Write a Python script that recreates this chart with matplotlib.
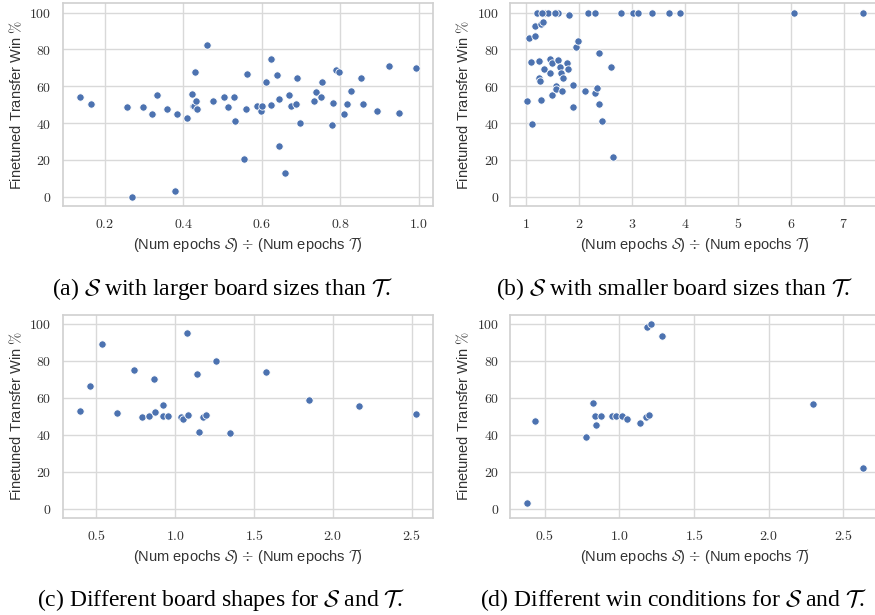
import matplotlib
matplotlib.use("Agg")
import matplotlib.pyplot as plt
from matplotlib.ticker import FuncFormatter
import seaborn as sns

# (a) S with larger board sizes than T
a_ratio = [0.136, 0.165, 0.256, 0.270, 0.297, 0.321, 0.332, 0.359, 0.380, 0.383,
           0.410, 0.422, 0.430, 0.424, 0.427, 0.433, 0.436, 0.460, 0.475, 0.503,
           0.515, 0.530, 0.532, 0.554, 0.559, 0.563, 0.588, 0.597, 0.601, 0.611,
           0.624, 0.624, 0.638, 0.643, 0.644, 0.658, 0.669, 0.674, 0.688, 0.690,
           0.697, 0.732, 0.737, 0.750, 0.754, 0.779, 0.782, 0.788, 0.796, 0.808,
           0.816, 0.826, 0.853, 0.857, 0.892, 0.923, 0.949, 0.992]
a_win = [54.2, 50.1, 48.6, 0.0, 48.5, 44.7, 55.1, 47.7, 3.4, 45.0,
         42.5, 55.9, 67.7, 49.4, 49.2, 52.1, 47.7, 82.5, 52.1, 53.9,
         48.5, 54.4, 41.3, 20.7, 47.7, 66.8, 49.4, 46.3, 49.2, 62.3,
         74.8, 49.7, 66.1, 53.2, 27.7, 12.8, 55.0, 49.5, 50.1, 64.5,
         40.0, 52.1, 56.6, 54.4, 62.2, 39.1, 51.0, 69.0, 67.7, 44.7,
         50.5, 57.5, 64.5, 50.3, 46.5, 71.2, 45.6, 69.9]

# (b) S with smaller board sizes than T
b_ratio = [1.013, 1.057, 1.088, 1.119, 1.170, 1.170, 1.214, 1.239, 1.252, 1.270,
           1.283, 1.289, 1.327, 1.340, 1.365, 1.421, 1.453, 1.459, 1.484, 1.497,
           1.560, 1.566, 1.560, 1.604, 1.610, 1.635, 1.667, 1.673, 1.704, 1.774,
           1.792, 1.805, 1.881, 1.887, 1.943, 1.987, 2.107, 2.170, 2.308, 2.302,
           2.333, 2.371, 2.371, 2.440, 2.610, 2.635, 2.786, 3.013, 3.119, 3.384,
           3.704, 3.906, 6.050, 7.365, 1.30, 1.55]
b_win = [52.0, 86.0, 73.0, 39.4, 87.4, 92.6, 100.0, 73.9, 64.7, 63.0,
         52.3, 93.9, 94.6, 69.4, 100.0, 100.0, 67.3, 74.8, 72.8, 55.0,
         60.3, 58.3, 100.0, 74.3, 100.0, 70.3, 67.1, 57.2, 64.7, 72.7,
         69.2, 98.4, 60.6, 48.9, 81.3, 84.5, 57.6, 100.0, 100.0, 56.5,
         58.8, 78.1, 50.4, 41.0, 70.7, 21.8, 100.0, 100.0, 100.0, 100.0,
         100.0, 100.0, 100.0, 100.0, 100.0, 100.0]

# (c) Different board shapes for S and T
c_ratio = [0.394, 0.460, 0.538, 0.633, 0.739, 0.792, 0.834, 0.866, 0.874, 0.921,
           0.925, 0.952, 1.035, 1.048, 1.075, 1.083, 1.141, 1.153, 1.179, 1.194,
           1.259, 1.350, 1.576, 1.847, 2.166, 2.525]
c_win = [52.8, 66.4, 89.0, 51.7, 75.0, 49.9, 50.1, 70.4, 52.1, 56.2,
         50.1, 50.1, 49.7, 48.8, 95.3, 50.8, 72.7, 41.8, 49.9, 51.0,
         80.1, 41.1, 74.1, 58.7, 55.5, 51.3]

# (d) Different win conditions for S and T
d_ratio = [0.379, 0.435, 0.777, 0.824, 0.836, 0.845, 0.876, 0.950, 0.980, 1.015,
           1.048, 1.140, 1.176, 1.182, 1.196, 1.209, 1.283, 2.299, 2.634]
d_win = [3.2, 47.7, 39.0, 57.4, 50.0, 45.3, 50.0, 50.0, 50.0, 50.0,
         48.6, 46.6, 49.5, 98.4, 50.9, 100.0, 93.7, 56.7, 21.8]

captions = [r"(a) $\mathcal{S}$ with larger board sizes than $\mathcal{T}$.",
            r"(b) $\mathcal{S}$ with smaller board sizes than $\mathcal{T}$.",
            r"(c) Different board shapes for $\mathcal{S}$ and $\mathcal{T}$.",
            r"(d) Different win conditions for $\mathcal{S}$ and $\mathcal{T}$."]
xticks = [[0.2, 0.4, 0.6, 0.8, 1.0], [1, 2, 3, 4, 5, 6, 7],
          [0.5, 1.0, 1.5, 2.0, 2.5], [0.5, 1.0, 1.5, 2.0, 2.5]]
xfmts = ["%.1f", "%d", "%.1f", "%.1f"]
yticks = [0, 20, 40, 60, 80, 100]

sns.set_theme(style="whitegrid")
plt.rcParams["font.family"] = ["Liberation Sans", "DejaVu Sans"]
plt.rcParams["mathtext.fontset"] = "cm"

W, H = 875, 615
fig = plt.figure(figsize=(W / 100, H / 100), dpi=100)

# axes boxes in pixels: left, top, right, bottom
boxes = [(62.7, 3.3, 432.7, 206), (510, 3.3, 880, 206),
         (62.7, 314.7, 432.7, 518), (510, 314.7, 880, 518)]
data = [(a_ratio, a_win), (b_ratio, b_win), (c_ratio, c_win), (d_ratio, d_win)]
cap_pos = [(222, 289), (674, 289), (221, 600), (673, 600)]


def make_fmt(f):
    return FuncFormatter(lambda v, p: "$" + (f % v) + "$")


for i, (l, t, r, b) in enumerate(boxes):
    ax = fig.add_axes([l / W, 1 - b / H, (r - l) / W, (b - t) / H])
    xs, ys = data[i]
    sns.scatterplot(x=xs, y=ys, ax=ax, s=28, color="#4c72b0",
                    edgecolor="white", linewidth=0.6)
    ax.set_xticks(xticks[i])
    ax.set_yticks(yticks)
    ax.set_ylim(-5, 105)
    ax.xaxis.set_major_formatter(make_fmt(xfmts[i]))
    ax.yaxis.set_major_formatter(make_fmt("%d"))
    ax.tick_params(labelsize=10, pad=2, colors="#333333")
    ax.grid(color="#d9d9d9", linewidth=1.0)
    for sp in ax.spines.values():
        sp.set_color("#d0d0d0")
        sp.set_linewidth(1.2)
    ax.set_xlabel(r"(Num epochs $\mathcal{S}$) $\div$ (Num epochs $\mathcal{T}$)",
                  fontsize=10.5, color="#333333", labelpad=3)
    ax.set_ylabel(r"Finetuned Transfer Win $\%$", fontsize=10.5, color="#333333",
                  labelpad=4)
    cx, cy = cap_pos[i]
    fig.text(cx / W, 1 - cy / H, captions[i], ha="center", va="center",
             fontsize=17, family=["Liberation Serif", "DejaVu Serif"], color="black")

fig.savefig("out.png", dpi=100)
